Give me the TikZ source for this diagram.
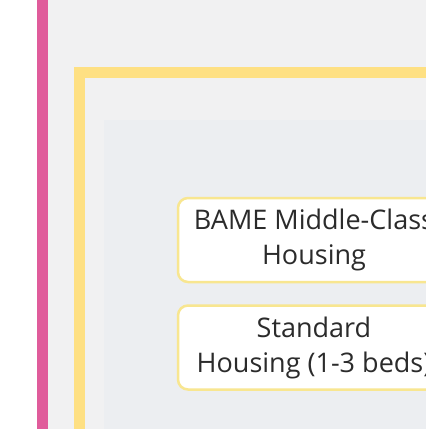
\documentclass[tikz,border=0pt]{standalone}
\usepackage{fontspec}
\setmainfont{Open Sans}
\definecolor{barpink}{HTML}{E05C9B}
\definecolor{framey}{HTML}{FEE083}
\definecolor{boxy}{HTML}{F8E690}
\definecolor{bggray}{HTML}{F1F1F2}
\definecolor{ingray}{HTML}{ECEEF1}
\definecolor{txt}{HTML}{2B2B2B}
\tikzset{housebox/.style={draw=boxy,line width=2.5pt,fill=white,rounded corners=10pt,
  minimum width=272pt,minimum height=84pt,align=center,text=txt,
  font=\fontsize{27}{35}\selectfont,inner sep=0pt}}

\begin{document}
\begin{tikzpicture}[x=1pt,y=-1pt]
		\useasboundingbox (0,0) rectangle (426,429);
		\clip (0,0) rectangle (426,429);
		\fill[white] (0,0) rectangle (426,429);
		\fill[bggray] (48,0) rectangle (426,429);
		\fill[barpink] (37,0) rectangle (48,429);
		\fill[ingray] (104,120) rectangle (426,429);
		\draw[framey,line width=11pt] (79,500) -- (79,72) -- (500,72);
		\node[housebox] (bame) at (314,240) {BAME Middle-Class\\Housing};
		\node[housebox] (std) at (314,347.5) {Standard\\Housing (1-3 beds)};
 	 \end{tikzpicture}
\end{document}
